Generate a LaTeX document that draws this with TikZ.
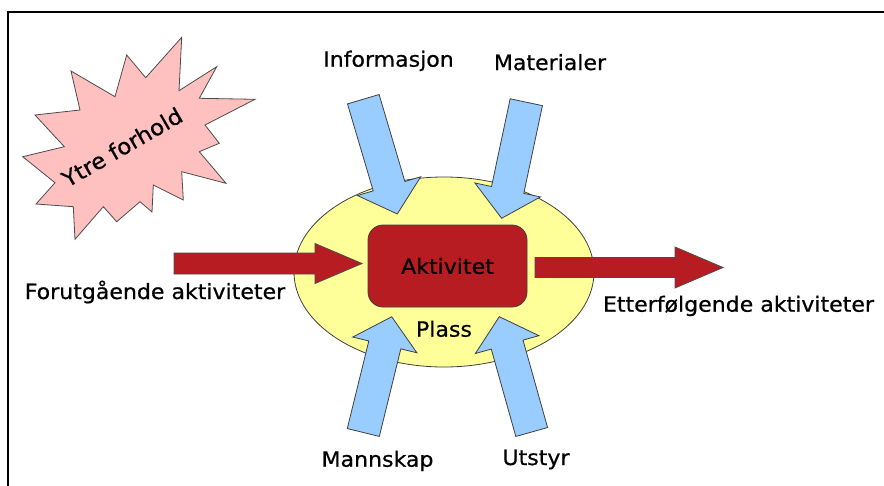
\documentclass[tikz,border=0pt]{standalone}
\usepackage{fontspec}
\setmainfont[FakeStretch=1.05,FakeBold=0.6]{DejaVu Sans}
\usetikzlibrary{shapes.geometric}
\definecolor{starpink}{RGB}{255,192,192}
\definecolor{arrowblue}{RGB}{153,204,255}
\definecolor{placeyellow}{RGB}{255,255,153}
\definecolor{actred}{RGB}{183,28,35}
\tikzset{
  pics/blockarrow/.style n args={4}{code={
    \draw[pic actions] (0,{-#2/2}) -- ({#1-#4},{-#2/2}) -- ({#1-#4},{-#3/2}) -- (#1,0)
      -- ({#1-#4},{#3/2}) -- ({#1-#4},{#2/2}) -- (0,{#2/2}) -- cycle;
  }},
  bluearrow/.style={fill=arrowblue, draw=black!75, line width=0.8pt, line join=miter},
  redarrow/.style={fill=actred, draw=black!70, line width=0.8pt, line join=miter},
  lbl/.style={font=\fontsize{21}{25}\selectfont, inner sep=0pt, anchor=base},
}
\begin{document}
\begin{tikzpicture}[x=1pt,y=-1pt]
\useasboundingbox (0,0) rectangle (884,485);
\clip (0,0) rectangle (884,485);
\fill[white] (0,0) rectangle (884,485);
% frame
\draw[line width=1.8pt] (8,500) -- (8,12) -- (900,12);

% starburst
\draw[fill=starpink, draw=black!70, line width=0.8pt, line join=miter]
 (181.7,37.3) -- (179,90.7) -- (216.7,66.7) -- (199.3,98.3) -- (255,99.3) -- (205,125)
 -- (219.3,143.3) -- (199.3,151.7) -- (226,183.3) -- (181.7,171.7) -- (183.3,200)
 -- (153.3,185) -- (152,212) -- (140,201.7) -- (116.7,221.7) -- (103.3,206.7)
 -- (75,239.3) -- (73.3,206.7) -- (36,204) -- (55,182.7) -- (22.7,156.7)
 -- (64.3,146.7) -- (35,115) -- (80,110) -- (71,71) -- (115,96.7) -- (126.7,55)
 -- (145.7,77.7) -- cycle;
\node[font=\fontsize{22}{26}\selectfont, inner sep=0pt, rotate=30] (ytre) at (122,147) {Ytre forhold};

% place ellipse
\node[ellipse, draw=black!75, line width=0.8pt, fill=placeyellow, minimum width=300pt,
      minimum height=190pt, inner sep=0pt] (plass) at (444,272) {};

% activity box
\node[draw=black!75, line width=0.8pt, fill=actred, rounded corners=15pt, minimum width=159pt,
      minimum height=82pt, inner sep=0pt, font=\fontsize{21}{25}\selectfont] (akt) at (447.5,266) {Aktivitet};
\node[lbl] (plasslbl) at (444,336.7) {Plass};

% red arrows
\pic[redarrow] at (174,263.5) {blockarrow={188}{21}{40}{47}};
\pic[redarrow] at (535,267.5) {blockarrow={188}{20}{41}{48}};

% blue arrows
\pic[bluearrow, rotate=-73.5] at (363.3,99.2) {blockarrow={119.7}{33}{66}{29}};
\pic[bluearrow, rotate=-102] at (526.3,102.2) {blockarrow={118.7}{33}{67}{29}};
\pic[bluearrow, rotate=76.2] at (363.3,432.5) {blockarrow={119.2}{33}{66}{29}};
\pic[bluearrow, rotate=105.7] at (531.7,432) {blockarrow={119.8}{33}{66}{29}};

% labels
\node[lbl] (info) at (388.5,66.7) {Informasjon};
\node[lbl] (mat) at (550,70) {Materialer};
\node[lbl] (forut) at (155,299) {Forutgående aktiviteter};
\node[lbl] (etter) at (738.5,311.7) {Etterfølgende aktiviteter};
\node[lbl] (mann) at (377.5,466.7) {Mannskap};
\node[lbl] (utstyr) at (536,465) {Utstyr};
\end{tikzpicture}
\end{document}
